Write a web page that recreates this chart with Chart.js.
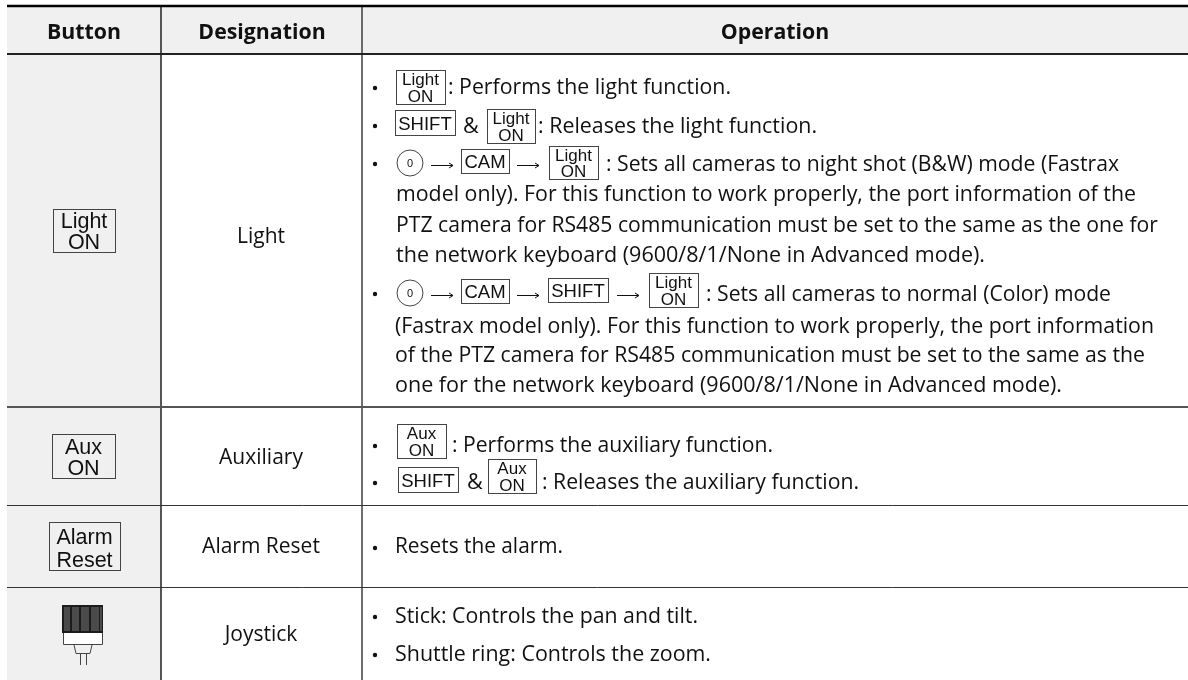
<!DOCTYPE html>
<html><head><meta charset="utf-8">
<style>html,body{margin:0;padding:0;background:#fff}canvas{display:block}</style>
<script src="https://cdn.jsdelivr.net/npm/chart.js@4"></script>
</head><body><canvas id="c" width="1188" height="680"></canvas>
<script>
const headers = ["Button","Designation","Operation"];
const designations = ["Light","Auxiliary","Alarm Reset","Joystick"];
const lightKey = ["Light","ON"];
const auxKey = ["Aux","ON"];
const alarmKey = ["Alarm","Reset"];
const operationLines = [
 ": Performs the light function.",
 ": Releases the light function.",
 ": Sets all cameras to night shot (B&W) mode (Fastrax",
 "model only). For this function to work properly, the port information of the",
 "PTZ camera for RS485 communication must be set to the same as the one for",
 "the network keyboard (9600/8/1/None in Advanced mode).",
 ": Sets all cameras to normal (Color) mode",
 "(Fastrax model only). For this function to work properly, the port information",
 "of the PTZ camera for RS485 communication must be set to the same as the",
 "one for the network keyboard (9600/8/1/None in Advanced mode).",
 ": Performs the auxiliary function.",
 ": Releases the auxiliary function.",
 "Resets the alarm.",
 "Stick: Controls the pan and tilt.",
 "Shuttle ring: Controls the zoom."
];
const columnEdges = [7,161,362,1188];
const rowEdges = [6,54,407,505,587,680];

const seg=(x0,y0,x1,y1,color,w)=>({data:[{x:x0,y:y0},{x:x1,y:y1}],showLine:true,pointRadius:0,borderColor:color,borderWidth:w,backgroundColor:'transparent',clip:false,order:1});
const fillArea=(x0,x1,y0,y1,col)=>({data:[{x:x0,y:y0},{x:x1,y:y0}],showLine:true,pointRadius:0,borderWidth:0,borderColor:'transparent',backgroundColor:col,fill:{value:y1},clip:false,order:5});
const datasets=[
 seg(columnEdges[0],rowEdges[0],columnEdges[3],rowEdges[0],'#000',2.4),
 seg(columnEdges[0],rowEdges[1],columnEdges[3],rowEdges[1],'#222',2.2),
 seg(columnEdges[0],rowEdges[2],columnEdges[3],rowEdges[2],'#555',2),
 seg(columnEdges[0],rowEdges[3]+.5,columnEdges[3],rowEdges[3]+.5,'#333',1),
 seg(columnEdges[0],rowEdges[4]+.5,columnEdges[3],rowEdges[4]+.5,'#333',1),
 seg(columnEdges[1],rowEdges[0],columnEdges[1],rowEdges[5],'#555',2),
 seg(columnEdges[2],rowEdges[0],columnEdges[2],rowEdges[5],'#333',1.4),
 fillArea(columnEdges[0],columnEdges[3],rowEdges[0],rowEdges[1],'#f0f0f0'),
 fillArea(columnEdges[0],columnEdges[1],rowEdges[1],rowEdges[5],'#f0f0f0')
];

// layout of the operation lines: x, baseline, fitted width
const lineLayout=[
 [448,94,283],[538,133,279],[606,171,513],[396,201,740],[396,232,762],[396,262,589],
 [706,301,405],[395,333,759],[395,362,750],[395,392,667],[452,452,321],[542,489,317],
 [395,553,168],[395,623,303],[395,661,316]];
const bullets=[[375,88],[375,126],[375,164],[375,294],[375,446],[375,483],[375,548],[375,617],[375,655]];

const tablePlugin={id:'table',afterDatasetsDraw(chart){
 const ctx=chart.ctx,X=chart.scales.x,Y=chart.scales.y;
 const px=v=>X.getPixelForValue(v),py=v=>Y.getPixelForValue(v);
 const body='"Open Sans"',key='"Liberation Sans"';
 ctx.save();
 ctx.textBaseline='alphabetic';
 ctx.fillStyle='#111';
 ctx.font='bold 21.3px '+body;ctx.textAlign='center';
 ctx.fillText(headers[0],px(84),py(39));
 ctx.fillText(headers[1],px(262),py(39));
 ctx.fillText(headers[2],px(775),py(39));
 ctx.font='21px '+body;
 [[243,0],[464,1],[553,2],[641,3]].forEach(([y,i])=>ctx.fillText(designations[i],px(261),py(y)));
 ctx.textAlign='left';
 ctx.font='21.6px '+body;
 operationLines.forEach((t,i)=>{const [x,y,w]=lineLayout[i];ctx.fillText(t,px(x),py(y),w);});
 bullets.forEach(([x,y])=>{ctx.beginPath();ctx.arc(px(x),py(y),2.2,0,7);ctx.fill();});
 const box=(x0,x1,y0,y1)=>{ctx.strokeStyle='#444';ctx.lineWidth=1;ctx.strokeRect(px(x0)+.5,py(y0)+.5,x1-x0,y1-y0);};
 const key2=(x0,x1,y0,y1,lines,fs)=>{box(x0,x1,y0,y1);ctx.font=fs+'px '+key;ctx.textAlign='center';ctx.fillStyle='#111';
  const c=(x0+x1)/2,h=y1-y0;ctx.fillText(lines[0],px(c),py(y0+h*.45));ctx.fillText(lines[1],px(c),py(y0+h*.93));ctx.textAlign='left';};
 const key1=(x0,x1,y0,y1,t)=>{box(x0,x1,y0,y1);ctx.font='18.5px '+key;ctx.textAlign='center';ctx.fillStyle='#111';ctx.fillText(t,px((x0+x1)/2),py(y1-5));ctx.textAlign='left';};
 const circ=(x,y)=>{ctx.strokeStyle='#444';ctx.lineWidth=1;ctx.beginPath();ctx.arc(px(x),py(y),13,0,7);ctx.stroke();ctx.font='11px '+key;ctx.textAlign='center';ctx.fillStyle='#111';ctx.fillText('0',px(x),py(y+4));ctx.textAlign='left';};
 const arrow=(x0,x1,y)=>{ctx.strokeStyle='#111';ctx.lineWidth=1;ctx.beginPath();ctx.moveTo(px(x0),py(y)+.5);ctx.lineTo(px(x1),py(y)+.5);ctx.moveTo(px(x1)-4,py(y)-2);ctx.lineTo(px(x1),py(y)+.5);ctx.lineTo(px(x1)-4,py(y)+3);ctx.stroke();};
 const amp=(x,y)=>{ctx.font='21.6px '+body;ctx.fillStyle='#111';ctx.fillText('&',px(x),py(y));};
 key2(396,445,70,104,lightKey,17);
 key1(395,455,110,135,'SHIFT');amp(463,133);key2(487,535,109,143,lightKey,17);
 circ(410,163);arrow(431,453,165);key1(461,509,149,173,'CAM');arrow(517,539,165);key2(549,598,146,179,lightKey,17);
 circ(410,293);arrow(431,453,295);key1(461,509,279,303,'CAM');arrow(517,539,295);key1(548,608,278,302,'SHIFT');arrow(617,639,295);key2(649,698,273,307,lightKey,17);
 key2(397,446,424,458,auxKey,17);
 key1(398,458,467,492,'SHIFT');amp(467,489);key2(488,536,459,493,auxKey,17);
 key2(53,115,209,252,lightKey,21.5);
 key2(52,115,434,478,auxKey,21.5);
 key2(49,120,522,570,alarmKey,21.5);
 // joystick icon
 ctx.fillStyle='#1c1c1c';ctx.fillRect(px(62),py(605),41,28);
 ctx.fillStyle='#4a4a4a';[[64,6],[72,7],[81,8],[91,8],[100,2]].forEach(([x,w])=>ctx.fillRect(px(x),py(607),w,24));
 ctx.fillStyle='#fff';ctx.fillRect(px(63),py(633),40,11);
 ctx.strokeStyle='#444';ctx.lineWidth=1;
 ctx.beginPath();ctx.moveTo(px(63)+.5,py(633));ctx.lineTo(px(63)+.5,py(644)+.5);ctx.lineTo(px(103)-.5,py(644)+.5);ctx.lineTo(px(103)-.5,py(633));
 ctx.moveTo(px(74),py(645));ctx.lineTo(px(76),py(653)+.5);ctx.lineTo(px(90),py(653)+.5);ctx.lineTo(px(92),py(645));
 ctx.moveTo(px(80)+.5,py(653));ctx.lineTo(px(80)+.5,py(665));ctx.moveTo(px(86)+.5,py(653));ctx.lineTo(px(86)+.5,py(665));ctx.stroke();
 ctx.restore();
}};

new Chart(document.getElementById('c'),{type:'scatter',data:{datasets},plugins:[tablePlugin],options:{
 responsive:false,animation:false,events:[],
 layout:{padding:0},
 plugins:{legend:{display:false},tooltip:{enabled:false},title:{display:false}},
 scales:{x:{type:'linear',min:0,max:1188,display:false},y:{type:'linear',min:0,max:680,reverse:true,display:false}}
}});
</script></body></html>
